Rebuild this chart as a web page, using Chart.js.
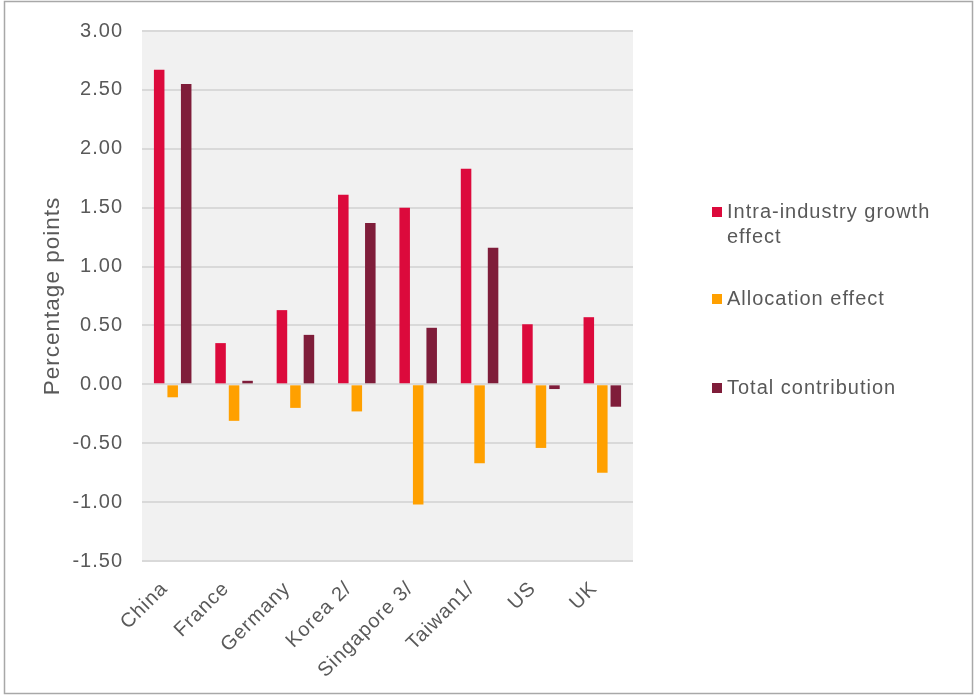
<!DOCTYPE html>
<html>
<head>
<meta charset="utf-8">
<script src="https://cdn.jsdelivr.net/npm/chart.js@4/dist/chart.umd.min.js"></script>
<style>
  html, body { margin: 0; padding: 0; background: #ffffff; }
  #wrap { width: 976px; height: 697px; position: relative; }
</style>
</head>
<body>
<div id="wrap"><canvas id="c" width="976" height="697"></canvas></div>
<script>
// Economies compared
const categories = ['China', 'France', 'Germany', 'Korea 2/', 'Singapore 3/', 'Taiwan1/', 'US', 'UK'];

// Contributions, percentage points
const intraIndustryGrowth = [2.67, 0.35, 0.63, 1.61, 1.50, 1.83, 0.51, 0.57];
const allocationEffect    = [-0.11, -0.31, -0.20, -0.23, -1.02, -0.67, -0.54, -0.75];
const totalContribution   = [2.55, 0.03, 0.42, 1.37, 0.48, 1.16, -0.04, -0.19];

const seriesNames = ['Intra-industry growth effect', 'Allocation effect', 'Total contribution'];
const seriesColors = ['#dc0a3c', '#ffa000', '#7f1d3a'];

// Value axis ticks
const yTicks = [-1.5, -1.0, -0.5, 0.0, 0.5, 1.0, 1.5, 2.0, 2.5, 3.0];

const TEXT = '#595959';
const FONT = "'Liberation Sans', Arial, sans-serif";

// Slightly open letter spacing for all chart text
const spacingPlugin = {
  id: 'spacing',
  beforeUpdate(chart) { chart.ctx.letterSpacing = '1px'; },
  beforeLayout(chart) { chart.ctx.letterSpacing = '1px'; },
  beforeDraw(chart) { chart.ctx.letterSpacing = '1px'; }
};

// Grey panel behind the bars plus the outer frame
const panelPlugin = {
  id: 'panel',
  beforeDraw(chart) {
    const { ctx, chartArea: a } = chart;
    ctx.save();
    ctx.fillStyle = '#ffffff';
    ctx.fillRect(0, 0, chart.width, chart.height);
    ctx.fillStyle = '#f1f1f1';
    ctx.fillRect(a.left, a.top, a.right - a.left, a.bottom - a.top);
    ctx.restore();
  },
  afterDraw(chart) {
    const ctx = chart.ctx;
    ctx.save();
    ctx.strokeStyle = '#a8a8a8';
    ctx.lineWidth = 1.5;
    ctx.strokeRect(4.5, 1.5, 968, 692);
    ctx.restore();
  }
};

// Right-hand legend with wrapped entries
const sideLegend = {
  id: 'sideLegend',
  afterDraw(chart) {
    const ctx = chart.ctx;
    const rowY = [212, 299, 388];
    const boxX = 712, textX = 727, box = 10, lineH = 25, maxW = 215;
    ctx.save();
    ctx.letterSpacing = '1px';
    ctx.font = '20px ' + FONT;
    ctx.textBaseline = 'middle';
    ctx.textAlign = 'left';
    chart.data.datasets.forEach((ds, i) => {
      const words = ds.label.split(' ');
      const lines = [];
      let cur = '';
      words.forEach(w => {
        const t = cur ? cur + ' ' + w : w;
        if (ctx.measureText(t).width > maxW && cur) { lines.push(cur); cur = w; }
        else cur = t;
      });
      if (cur) lines.push(cur);
      const y = rowY[i];
      ctx.fillStyle = ds.backgroundColor;
      ctx.fillRect(boxX, y - box / 2, box, box);
      ctx.fillStyle = TEXT;
      lines.forEach((ln, k) => ctx.fillText(ln, textX, y + k * lineH));
    });
    ctx.restore();
  }
};

const values = [intraIndustryGrowth, allocationEffect, totalContribution];

new Chart(document.getElementById('c'), {
  type: 'bar',
  data: {
    labels: categories,
    datasets: values.map((v, i) => ({
      label: seriesNames[i],
      data: v,
      backgroundColor: seriesColors[i],
      borderWidth: 0,
      barPercentage: 0.78,
      categoryPercentage: 0.66
    }))
  },
  options: {
    responsive: false,
    animation: false,
    devicePixelRatio: 1,
    layout: { padding: { top: 29, right: 343, left: 0, bottom: 0 } },
    plugins: {
      legend: { display: false },
      tooltip: { enabled: false }
    },
    scales: {
      x: {
        grid: { display: false },
        border: { display: false },
        ticks: {
          color: TEXT,
          font: { family: FONT, size: 20 },
          minRotation: 45,
          maxRotation: 45,
          padding: 8,
          labelOffset: -8
        },
        afterFit(scale) { scale.height = 136; }
      },
      y: {
        min: -1.5,
        max: 3,
        afterBuildTicks(scale) { scale.ticks = yTicks.map(v => ({ value: v })); },
        grid: { color: '#d9d9d9', lineWidth: 2, drawTicks: false },
        border: { display: false },
        ticks: {
          color: TEXT,
          font: { family: FONT, size: 20 },
          padding: 19,
          callback: v => Number(v).toFixed(2)
        },
        title: {
          display: true,
          text: 'Percentage points',
          color: TEXT,
          font: { family: FONT, size: 22.5 },
          padding: { top: 39, bottom: 0 }
        },
        afterFit(scale) { scale.width = 142; }
      }
    }
  },
  plugins: [spacingPlugin, panelPlugin, sideLegend]
});
</script>
</body>
</html>
